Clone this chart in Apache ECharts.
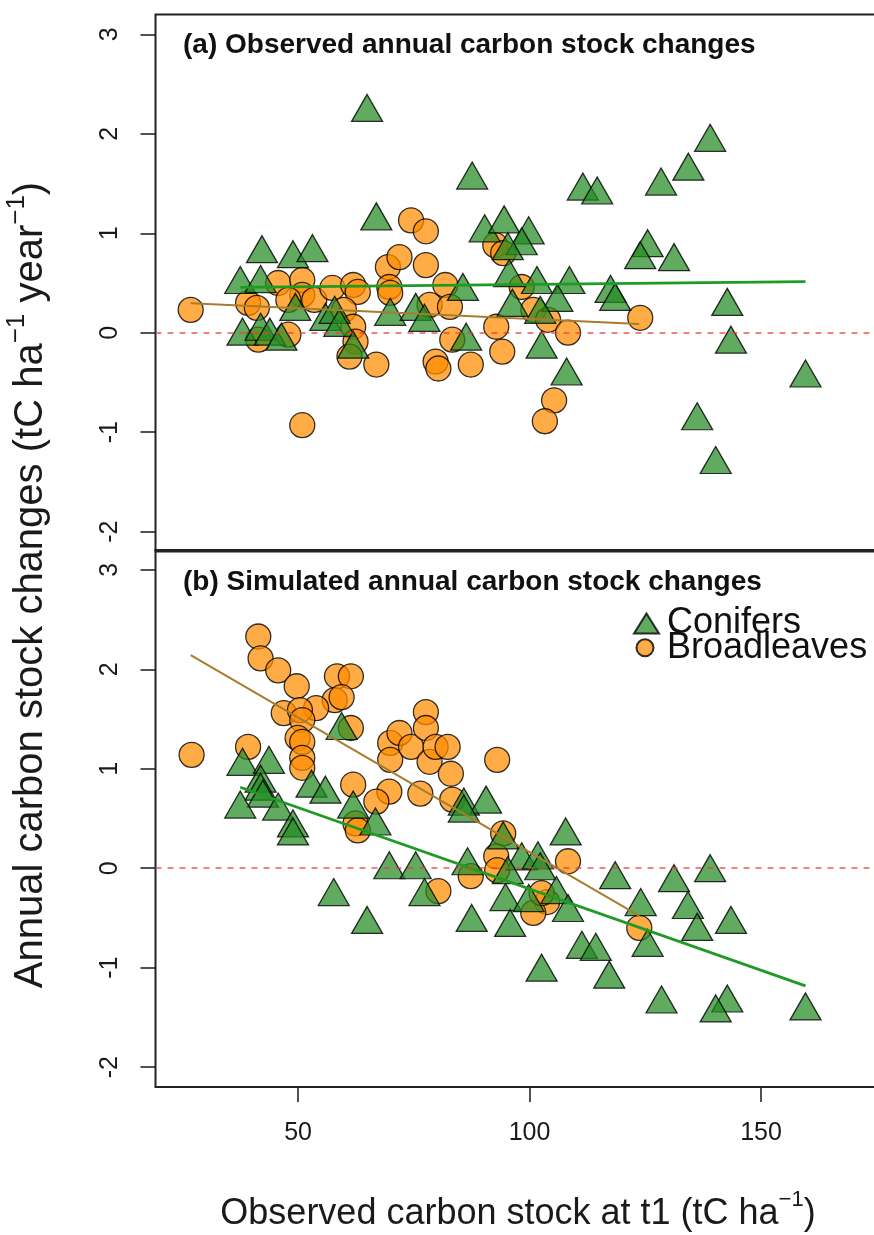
<!DOCTYPE html>
<html>
<head>
<meta charset="utf-8">
<script src="https://cdn.jsdelivr.net/npm/echarts@6/dist/echarts.min.js"></script>
<style>
html,body{margin:0;padding:0;background:#fff;overflow:hidden}
#chart{width:874px;height:1235px}
</style>
</head>
<body>
<div id="chart"></div>
<script>
// ---------------- data ----------------
const xTicks = [50, 100, 150];
const yTicks = [-2, -1, 0, 1, 2, 3];
const seriesNames = ['Conifers', 'Broadleaves'];
const panelTitles = ['(a) Observed annual carbon stock changes', '(b) Simulated annual carbon stock changes'];
const xTitle = 'Observed carbon stock at t1 (tC ha{sup|\u22121})';
const yTitle = 'Annual carbon stock changes (tC ha{sup|\u22121} year{sup|\u22121})';

// panel (a): observed  [carbon stock at t1, annual change]
const obsConifers = [
  [64.9,2.26],[87.6,1.58],[66.9,1.17],[111.5,1.47],[114.6,1.43],[128.4,1.52],[134.3,1.67],[139.0,1.96],
  [42.2,0.84],[48.9,0.79],[53.1,0.85],[90.3,1.05],[94.5,1.14],[99.8,1.03],[98.3,0.92],[95.3,0.87],
  [125.5,0.90],[123.9,0.78],[131.2,0.76],[37.5,0.53],[41.9,0.54],[85.6,0.46],[95.6,0.60],[101.6,0.53],
  [108.6,0.53],[117.5,0.44],[118.5,0.36],[106.0,0.35],[142.7,0.31],[49.4,0.26],[55.9,0.16],[57.9,0.23],
  [69.9,0.21],[75.4,0.26],[77.3,0.15],[96.3,0.30],[102.3,0.23],[38.0,0.01],[41.9,0.06],[43.9,0.01],
  [46.4,-0.04],[58.9,0.10],[61.9,-0.12],[86.3,-0.04],[102.6,-0.12],[143.5,-0.07],[108.0,-0.39],
  [159.6,-0.41],[136.2,-0.84],[140.2,-1.28]
];
const obsBroadleaves = [
  [26.8,0.23],[39.2,0.30],[41.1,0.25],[45.7,0.50],[50.9,0.53],[50.9,0.38],[47.9,0.33],[53.5,0.33],
  [41.4,-0.07],[47.9,-0.02],[57.4,0.45],[61.9,0.48],[62.9,0.41],[59.9,0.23],[61.9,0.06],[62.4,-0.09],
  [61.1,-0.24],[66.9,-0.32],[69.4,0.66],[71.9,0.76],[69.7,0.46],[69.9,0.40],[74.4,1.13],[77.6,1.02],
  [77.6,0.68],[78.4,0.28],[81.8,0.48],[82.8,0.26],[83.3,-0.07],[79.7,-0.29],[80.3,-0.36],[87.3,-0.32],
  [92.8,0.06],[94.1,-0.19],[92.6,0.88],[94.3,0.80],[98.3,0.46],[100.8,0.23],[104.0,0.13],[108.3,0.00],
  [123.9,0.15],[105.3,-0.68],[103.3,-0.89],[50.9,-0.93]
];
// panel (b): simulated
const simConifers = [
  [59.4,1.43],[38.0,1.07],[43.7,1.09],[41.9,0.90],[41.9,0.82],[42.4,0.75],[37.5,0.64],[45.7,0.62],
  [48.9,0.45],[48.9,0.37],[52.9,0.85],[55.9,0.79],[61.9,0.64],[66.7,0.47],[85.8,0.67],[90.6,0.69],
  [85.8,0.60],[94.3,0.33],[107.8,0.37],[69.7,0.03],[75.4,0.03],[86.6,0.07],[98.3,0.12],[101.8,0.13],
  [95.3,-0.02],[102.3,0.02],[118.5,-0.07],[131.2,-0.10],[139.0,0.00],[57.7,-0.24],[77.3,-0.24],
  [94.8,-0.29],[99.8,-0.30],[105.8,-0.22],[108.3,-0.40],[124.0,-0.34],[134.2,-0.37],[143.5,-0.52],
  [136.2,-0.59],[64.9,-0.52],[87.5,-0.50],[95.8,-0.55],[125.5,-0.75],[111.3,-0.77],[114.3,-0.79],
  [102.6,-1.00],[117.2,-1.07],[128.5,-1.32],[142.7,-1.31],[140.2,-1.41],[159.6,-1.39]
];
const simBroadleaves = [
  [41.4,2.33],[41.9,2.11],[45.7,1.99],[49.7,1.83],[58.4,1.93],[61.4,1.93],[57.9,1.69],[59.4,1.72],
  [53.9,1.61],[46.9,1.56],[50.4,1.59],[50.9,1.49],[61.4,1.41],[27.0,1.14],[39.2,1.22],[49.9,1.31],
  [50.9,1.27],[50.9,1.11],[50.9,1.01],[69.9,1.26],[71.9,1.36],[69.9,1.09],[74.4,1.22],[77.6,1.57],
  [77.6,1.41],[78.4,1.07],[79.7,1.22],[82.3,1.22],[83.0,0.95],[93.0,1.09],[61.9,0.84],[69.7,0.77],
  [66.9,0.67],[76.4,0.75],[83.3,0.69],[62.4,0.45],[62.9,0.38],[94.3,0.35],[92.8,0.12],[93.0,-0.02],
  [108.3,0.07],[87.3,-0.08],[80.3,-0.23],[103.8,-0.34],[100.8,-0.45],[102.6,-0.25],[123.7,-0.60]
];
// regression line end points
const fitObsConifers = [[37.5,0.457],[159.6,0.514]];
const fitObsBroadleaves = [[26.8,0.296],[123.7,0.088]];
const fitSimConifers = [[37.5,0.814],[159.6,-1.183]];
const fitSimBroadleaves = [[26.8,2.144],[123.7,-0.48]];
const zeroLine = 0;

// ---------------- style ----------------
const FONT = '"Liberation Sans", Arial, Helvetica, sans-serif';
const INK = '#1a1a1a';
const GREEN_FILL = 'rgba(34,139,34,0.72)';
const ORANGE_FILL = 'rgba(255,140,0,0.72)';
const EDGE = 'rgba(0,0,0,0.8)';
const GREEN_LINE = '#1f9a24';
const BROWN_LINE = '#a97c2c';
const X_MIN = 19.2, X_MAX = 175.8, Y_MIN = -2.2, Y_MAX = 3.2;
const GL = 155.5, GW = 725;

const chart = echarts.init(document.getElementById('chart'), null, {renderer: 'canvas'});

function xAxisFor(i, showTicks) {
  const ax = {
    gridIndex: i, type: 'value', min: X_MIN, max: X_MAX, position: 'bottom',
    axisLine: {show: false, onZero: false}, splitLine: {show: false},
    axisTick: {show: showTicks, customValues: xTicks, length: 15, lineStyle: {color: INK, width: 1.5}},
    axisLabel: {show: showTicks, customValues: xTicks, margin: 34, fontSize: 25, color: INK, fontFamily: FONT}
  };
  if (showTicks) {
    ax.name = xTitle;
    ax.nameLocation = 'middle';
    ax.nameGap = 102;
    ax.nameTextStyle = {fontSize: 36, lineHeight: 50, color: INK, fontFamily: FONT,
      rich: {sup: {fontSize: 22, lineHeight: 20, verticalAlign: 'top', color: INK, fontFamily: FONT}}};
  }
  return ax;
}
function yAxisFor(i) {
  return {
    gridIndex: i, type: 'value', min: Y_MIN, max: Y_MAX, position: 'left',
    axisLine: {show: false, onZero: false}, splitLine: {show: false},
    axisTick: {show: true, customValues: yTicks, length: 15, lineStyle: {color: INK, width: 1.5}},
    axisLabel: {customValues: yTicks, rotate: 90, margin: 33, fontSize: 25, color: INK, fontFamily: FONT}
  };
}
function scatter(name, data, gi) {
  const tri = name === 'Conifers';
  return {
    name: name, type: 'scatter', xAxisIndex: gi, yAxisIndex: gi, data: data,
    symbol: tri ? 'triangle' : 'circle', symbolSize: tri ? [31, 27] : 25,
    itemStyle: {color: tri ? GREEN_FILL : ORANGE_FILL, borderColor: EDGE, borderWidth: 1.3, opacity: 1},
    emphasis: {disabled: true}, silent: true
  };
}
function fitLine(name, data, gi, color, width, withZero) {
  const s = {
    name: name + ' fit', type: 'line', xAxisIndex: gi, yAxisIndex: gi, data: data,
    showSymbol: false, symbol: 'none', lineStyle: {color: color, width: width},
    emphasis: {disabled: true}, silent: true, z: 3
  };
  if (withZero) {
    s.markLine = {silent: true, symbol: ['none', 'none'], label: {show: false},
      lineStyle: {color: 'rgba(235,60,60,0.85)', type: [6, 6], width: 1.5},
      data: [{yAxis: zeroLine}]};
  }
  return s;
}

const option = {
  animation: false,
  backgroundColor: '#ffffff',
  textStyle: {fontFamily: FONT},
  title: [
    {text: panelTitles[0], left: 183, top: 31, padding: 0,
     textStyle: {fontSize: 28, fontWeight: 'bold', color: '#111', fontFamily: FONT}},
    {text: panelTitles[1], left: 183, top: 568.5, padding: 0,
     textStyle: {fontSize: 28, fontWeight: 'bold', color: '#111', fontFamily: FONT}}
  ],
  legend: [
    {data: [seriesNames[0]], left: 633, top: 605.5, padding: 0, orient: 'vertical',
     itemWidth: 25, itemHeight: 20, symbolKeepAspect: false, selectedMode: false,
     textStyle: {fontSize: 36, lineHeight: 24, color: '#111', fontFamily: FONT, padding: [0, 0, 0, 3]}},
    {data: [seriesNames[1]], left: 635.5, top: 629.7, padding: 0, orient: 'vertical',
     itemWidth: 17, itemHeight: 17, symbolKeepAspect: false, selectedMode: false,
     textStyle: {fontSize: 36, lineHeight: 24, color: '#111', fontFamily: FONT, padding: [0, 0, 0, 8.5]}}
  ],
  grid: [
    {left: GL, top: 14.5, width: GW, height: 537, outerBoundsMode: 'none', containLabel: false,
     show: true, borderColor: '#222', borderWidth: 2, backgroundColor: 'rgba(0,0,0,0)'},
    {left: GL, top: 550, width: GW, height: 537, outerBoundsMode: 'none', containLabel: false,
     show: true, borderColor: '#222', borderWidth: 2, backgroundColor: 'rgba(0,0,0,0)'},
    {left: GL, top: 85, width: GW, height: 1000, outerBoundsMode: 'none', containLabel: false, show: false}
  ],
  xAxis: [
    xAxisFor(0, false),
    xAxisFor(1, true),
    {gridIndex: 2, type: 'value', min: 0, max: 1, show: false}
  ],
  yAxis: [
    yAxisFor(0),
    yAxisFor(1),
    {gridIndex: 2, type: 'value', min: 0, max: 1,
     axisLine: {show: false, onZero: false}, axisTick: {show: false}, axisLabel: {show: false}, splitLine: {show: false},
     name: yTitle, nameLocation: 'middle', nameGap: 98,
     nameTextStyle: {fontSize: 40, lineHeight: 54, color: INK, fontFamily: FONT,
       rich: {sup: {fontSize: 26, lineHeight: 24, verticalAlign: 'top', color: INK, fontFamily: FONT}}}}
  ],
  series: [
    scatter(seriesNames[1], obsBroadleaves, 0),
    scatter(seriesNames[0], obsConifers, 0),
    fitLine(seriesNames[0], fitObsConifers, 0, GREEN_LINE, 2.8, true),
    fitLine(seriesNames[1], fitObsBroadleaves, 0, BROWN_LINE, 2, false),
    scatter(seriesNames[1], simBroadleaves, 1),
    scatter(seriesNames[0], simConifers, 1),
    fitLine(seriesNames[1], fitSimBroadleaves, 1, BROWN_LINE, 2, true),
    fitLine(seriesNames[0], fitSimConifers, 1, GREEN_LINE, 2.8, false)
  ]
};
chart.setOption(option);
</script>
</body>
</html>
